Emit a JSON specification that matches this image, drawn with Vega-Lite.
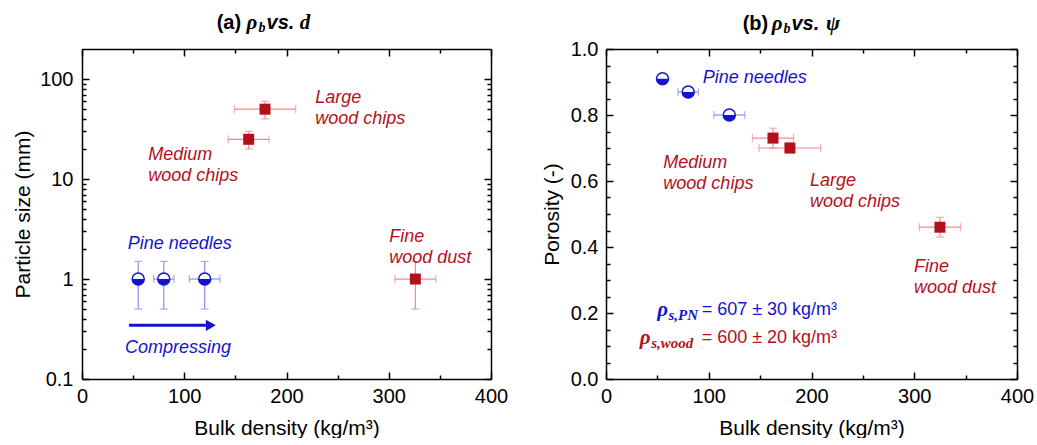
{
  "$schema": "https://vega.github.io/schema/vega-lite/v6.json",
  "padding": {"left": 12, "top": 12, "right": 0, "bottom": 0},
  "spacing": 33,
  "background": "white",
  "datasets": {
    "left": [
      {"group": "pine", "x": 55, "xlo": 52, "xhi": 58, "y": 1, "ylo": 0.5, "yhi": 1.5},
      {"group": "pine", "x": 80, "xlo": 70, "xhi": 90, "y": 1, "ylo": 0.5, "yhi": 1.5},
      {"group": "pine", "x": 120, "xlo": 105, "xhi": 135, "y": 1, "ylo": 0.5, "yhi": 1.5},
      {"group": "wood", "x": 163, "xlo": 143, "xhi": 183, "y": 25, "ylo": 20, "yhi": 30},
      {"group": "wood", "x": 179, "xlo": 149, "xhi": 209, "y": 50, "ylo": 40, "yhi": 60},
      {"group": "wood", "x": 326, "xlo": 306, "xhi": 346, "y": 1, "ylo": 0.5, "yhi": 1.5}
    ],
    "right": [
      {"group": "pine", "x": 55, "xlo": 52, "xhi": 58, "y": 0.91, "ylo": 0.9, "yhi": 0.92},
      {"group": "pine", "x": 80, "xlo": 70, "xhi": 90, "y": 0.87, "ylo": 0.86, "yhi": 0.88},
      {"group": "pine", "x": 120, "xlo": 105, "xhi": 135, "y": 0.8, "ylo": 0.79, "yhi": 0.81},
      {"group": "wood", "x": 162.5, "xlo": 142.5, "xhi": 182.5, "y": 0.73, "ylo": 0.7, "yhi": 0.76},
      {"group": "wood", "x": 179, "xlo": 149, "xhi": 209, "y": 0.7, "ylo": 0.685, "yhi": 0.715},
      {"group": "wood", "x": 325, "xlo": 305, "xhi": 345, "y": 0.46, "ylo": 0.43, "yhi": 0.49}
    ]
  },
  "config": {
    "view": {"stroke": null},
    "axis": {"domainColor": "black", "domainWidth": 1.5, "tickColor": "black", "tickWidth": 1.5, "labelFont": "Liberation Sans", "labelFontSize": 20, "labelColor": "black", "titleFont": "Liberation Sans", "titleFontSize": 21, "titleFontWeight": "normal", "titleColor": "black", "grid": false, "labelFlush": false, "labelOverlap": false},
    "text": {"font": "Liberation Sans", "fontSize": 18}
  },
  "hconcat": [
    {
      "width": 409, "height": 330,
      "data": {"name": "left"},
      "layer": [
        {"mark": {"type": "point", "opacity": 0},
         "encoding": {
           "x": {"field": "x", "type": "quantitative", "scale": {"domain": [0, 400], "nice": false, "zero": false},
                 "axis": {"orient": "bottom", "title": "Bulk density (kg/m³)", "values": [0, 50, 100, 150, 200, 250, 300, 350, 400], "labelExpr": "datum.value % 100 === 0 ? datum.label : ''", "tickSize": {"condition": {"test": "datum.value % 100 === 0", "value": -7}, "value": -4}, "labelPadding": 14, "titlePadding": 8}},
           "y": {"field": "y", "type": "quantitative", "scale": {"type": "log", "domain": [0.1, 200], "nice": false},
                 "axis": {"orient": "left", "title": "Particle size (mm)", "values": [0.1, 0.2, 0.3, 0.4, 0.5, 0.6, 0.7, 0.8, 0.9, 1, 2, 3, 4, 5, 6, 7, 8, 9, 10, 20, 30, 40, 50, 60, 70, 80, 90, 100], "format": "~g", "labelExpr": "abs(log(datum.value)/LN10 - round(log(datum.value)/LN10)) < 1e-6 ? datum.label : ''", "tickSize": {"condition": {"test": "abs(log(datum.value)/LN10 - round(log(datum.value)/LN10)) < 1e-6", "value": -7}, "value": -4}, "labelPadding": 16, "titlePadding": 6}}
         }},
        {"mark": {"type": "point", "opacity": 0},
         "encoding": {
           "x": {"field": "x", "type": "quantitative", "axis": {"orient": "top", "title": null, "labels": false, "values": [0, 50, 100, 150, 200, 250, 300, 350, 400], "tickSize": {"condition": {"test": "datum.value % 100 === 0", "value": -7}, "value": -4}}},
           "y": {"field": "y", "type": "quantitative", "axis": {"orient": "right", "title": null, "labels": false, "values": [0.1, 0.2, 0.3, 0.4, 0.5, 0.6, 0.7, 0.8, 0.9, 1, 2, 3, 4, 5, 6, 7, 8, 9, 10, 20, 30, 40, 50, 60, 70, 80, 90, 100], "tickSize": {"condition": {"test": "abs(log(datum.value)/LN10 - round(log(datum.value)/LN10)) < 1e-6", "value": -7}, "value": -4}}}
         }},
        {"mark": {"type": "errorbar", "ticks": true, "size": 8, "thickness": 1.2},
         "encoding": {"x": {"field": "xlo", "type": "quantitative", "axis": null}, "x2": {"field": "xhi"}, "y": {"field": "y", "type": "quantitative", "axis": null},
                      "color": {"field": "group", "type": "nominal", "scale": {"domain": ["pine", "wood"], "range": ["#8c8cf0", "#f08c8c"]}, "legend": null}}},
        {"mark": {"type": "errorbar", "ticks": true, "size": 8, "thickness": 1.2},
         "encoding": {"y": {"field": "ylo", "type": "quantitative", "axis": null}, "y2": {"field": "yhi"}, "x": {"field": "x", "type": "quantitative", "axis": null},
                      "color": {"field": "group", "type": "nominal", "legend": null}}},
        {"transform": [{"filter": "datum.group === 'pine'"}],
         "mark": {"type": "point", "shape": "circle", "filled": true, "fill": "white", "stroke": "#1414d0", "strokeWidth": 1.5, "size": 144, "opacity": 1},
         "encoding": {"x": {"field": "x", "type": "quantitative", "axis": null}, "y": {"field": "y", "type": "quantitative", "axis": null}}},
        {"transform": [{"filter": "datum.group === 'pine'"}],
         "mark": {"type": "point", "shape": "M-1,0C-1,0.552,-0.552,1,0,1C0.552,1,1,0.552,1,0Z", "filled": true, "color": "#1414d0", "size": 144, "opacity": 1},
         "encoding": {"x": {"field": "x", "type": "quantitative", "axis": null}, "y": {"field": "y", "type": "quantitative", "axis": null}}},
        {"transform": [{"filter": "datum.group === 'wood'"}],
         "mark": {"type": "square", "size": 121, "color": "#b3101b", "opacity": 1},
         "encoding": {"x": {"field": "x", "type": "quantitative", "axis": null}, "y": {"field": "y", "type": "quantitative", "axis": null}}},
        {"data": {"values": [{}]}, "mark": {"type": "text", "text": ["Large", "wood chips"], "align": "left", "baseline": "middle", "fontStyle": "italic", "lineHeight": 21, "color": "#b3101b"},
         "encoding": {"x": {"datum": 228, "type": "quantitative", "axis": null}, "y": {"datum": 64.6, "type": "quantitative", "axis": null}}},
        {"data": {"values": [{}]}, "mark": {"type": "text", "text": ["Medium", "wood chips"], "align": "left", "baseline": "middle", "fontStyle": "italic", "lineHeight": 21, "color": "#b3101b"},
         "encoding": {"x": {"datum": 64.8, "type": "quantitative", "axis": null}, "y": {"datum": 17.5, "type": "quantitative", "axis": null}}},
        {"data": {"values": [{}]}, "mark": {"type": "text", "text": ["Fine", "wood dust"], "align": "left", "baseline": "middle", "fontStyle": "italic", "lineHeight": 21, "color": "#b3101b"},
         "encoding": {"x": {"datum": 300.5, "type": "quantitative", "axis": null}, "y": {"datum": 2.66, "type": "quantitative", "axis": null}}},
        {"data": {"values": [{}]}, "mark": {"type": "text", "text": "Pine needles", "align": "left", "baseline": "middle", "fontStyle": "italic", "color": "#1414d0"},
         "encoding": {"x": {"datum": 44.7, "type": "quantitative", "axis": null}, "y": {"datum": 2.25, "type": "quantitative", "axis": null}}},
        {"data": {"values": [{}]}, "mark": {"type": "text", "text": "Compressing", "align": "left", "baseline": "middle", "fontStyle": "italic", "color": "#1414d0"},
         "encoding": {"x": {"datum": 42, "type": "quantitative", "axis": null}, "y": {"datum": 0.206, "type": "quantitative", "axis": null}}},
        {"data": {"values": [{}]}, "mark": {"type": "rule", "color": "#1414d0", "strokeWidth": 3},
         "encoding": {"x": {"datum": 46, "type": "quantitative", "axis": null}, "x2": {"datum": 124}, "y": {"datum": 0.344, "type": "quantitative", "axis": null}}},
        {"data": {"values": [{}]}, "mark": {"type": "point", "shape": "triangle-right", "filled": true, "color": "#1414d0", "size": 130, "opacity": 1},
         "encoding": {"x": {"datum": 126, "type": "quantitative", "axis": null}, "y": {"datum": 0.344, "type": "quantitative", "axis": null}}},
        {"data": {"values": [{}]}, "mark": {"type": "text", "text": "(a)", "align": "left", "baseline": "middle", "fontWeight": "bold", "fontSize": 20, "color": "black"},
         "encoding": {"x": {"datum": 131.7, "type": "quantitative", "axis": null}, "y": {"datum": 363, "type": "quantitative", "axis": null}}},
        {"data": {"values": [{}]}, "mark": {"type": "text", "text": "ρ", "align": "left", "baseline": "middle", "font": "Liberation Serif", "fontWeight": "bold", "fontStyle": "italic", "fontSize": 21, "color": "black"},
         "encoding": {"x": {"datum": 161, "type": "quantitative", "axis": null}, "y": {"datum": 363, "type": "quantitative", "axis": null}}},
        {"data": {"values": [{}]}, "mark": {"type": "text", "text": "b", "align": "left", "baseline": "middle", "font": "Liberation Serif", "fontWeight": "bold", "fontStyle": "italic", "fontSize": 14, "dy": 5, "color": "black"},
         "encoding": {"x": {"datum": 172.5, "type": "quantitative", "axis": null}, "y": {"datum": 363, "type": "quantitative", "axis": null}}},
        {"data": {"values": [{}]}, "mark": {"type": "text", "text": "vs.", "align": "left", "baseline": "middle", "fontWeight": "bold", "fontStyle": "italic", "fontSize": 20, "color": "black"},
         "encoding": {"x": {"datum": 180.5, "type": "quantitative", "axis": null}, "y": {"datum": 363, "type": "quantitative", "axis": null}}},
        {"data": {"values": [{}]}, "mark": {"type": "text", "text": "d", "align": "left", "baseline": "middle", "font": "Liberation Serif", "fontWeight": "bold", "fontStyle": "italic", "fontSize": 21, "color": "black"},
         "encoding": {"x": {"datum": 213, "type": "quantitative", "axis": null}, "y": {"datum": 363, "type": "quantitative", "axis": null}}}
      ]
    },
    {
      "width": 411, "height": 330,
      "data": {"name": "right"},
      "layer": [
        {"mark": {"type": "point", "opacity": 0},
         "encoding": {
           "x": {"field": "x", "type": "quantitative", "scale": {"domain": [0, 400], "nice": false, "zero": false},
                 "axis": {"orient": "bottom", "title": "Bulk density (kg/m³)", "values": [0, 50, 100, 150, 200, 250, 300, 350, 400], "labelExpr": "datum.value % 100 === 0 ? datum.label : ''", "tickSize": {"condition": {"test": "datum.value % 100 === 0", "value": -7}, "value": -4}, "labelPadding": 14, "titlePadding": 8}},
           "y": {"field": "y", "type": "quantitative", "scale": {"domain": [0, 1], "nice": false, "zero": false},
                 "axis": {"orient": "left", "title": "Porosity (-)", "values": [0, 0.05, 0.1, 0.15, 0.2, 0.25, 0.3, 0.35, 0.4, 0.45, 0.5, 0.55, 0.6, 0.65, 0.7, 0.75, 0.8, 0.85, 0.9, 0.95, 1], "format": ".1f", "labelExpr": "abs(datum.value*5 - round(datum.value*5)) < 1e-6 ? datum.label : ''", "tickSize": {"condition": {"test": "abs(datum.value*5 - round(datum.value*5)) < 1e-6", "value": -7}, "value": -4}, "labelPadding": 15, "titlePadding": 8}}
         }},
        {"mark": {"type": "point", "opacity": 0},
         "encoding": {
           "x": {"field": "x", "type": "quantitative", "axis": {"orient": "top", "title": null, "labels": false, "values": [0, 50, 100, 150, 200, 250, 300, 350, 400], "tickSize": {"condition": {"test": "datum.value % 100 === 0", "value": -7}, "value": -4}}},
           "y": {"field": "y", "type": "quantitative", "axis": {"orient": "right", "title": null, "labels": false, "values": [0, 0.05, 0.1, 0.15, 0.2, 0.25, 0.3, 0.35, 0.4, 0.45, 0.5, 0.55, 0.6, 0.65, 0.7, 0.75, 0.8, 0.85, 0.9, 0.95, 1], "tickSize": {"condition": {"test": "abs(datum.value*5 - round(datum.value*5)) < 1e-6", "value": -7}, "value": -4}}}
         }},
        {"mark": {"type": "errorbar", "ticks": true, "size": 8, "thickness": 1.2},
         "encoding": {"x": {"field": "xlo", "type": "quantitative", "axis": null}, "x2": {"field": "xhi"}, "y": {"field": "y", "type": "quantitative", "axis": null},
                      "color": {"field": "group", "type": "nominal", "scale": {"domain": ["pine", "wood"], "range": ["#8c8cf0", "#f08c8c"]}, "legend": null}}},
        {"mark": {"type": "errorbar", "ticks": true, "size": 8, "thickness": 1.2},
         "encoding": {"y": {"field": "ylo", "type": "quantitative", "axis": null}, "y2": {"field": "yhi"}, "x": {"field": "x", "type": "quantitative", "axis": null},
                      "color": {"field": "group", "type": "nominal", "legend": null}}},
        {"transform": [{"filter": "datum.group === 'pine'"}],
         "mark": {"type": "point", "shape": "circle", "filled": true, "fill": "white", "stroke": "#1414d0", "strokeWidth": 1.5, "size": 144, "opacity": 1},
         "encoding": {"x": {"field": "x", "type": "quantitative", "axis": null}, "y": {"field": "y", "type": "quantitative", "axis": null}}},
        {"transform": [{"filter": "datum.group === 'pine'"}],
         "mark": {"type": "point", "shape": "M-1,0C-1,0.552,-0.552,1,0,1C0.552,1,1,0.552,1,0Z", "filled": true, "color": "#1414d0", "size": 144, "opacity": 1},
         "encoding": {"x": {"field": "x", "type": "quantitative", "axis": null}, "y": {"field": "y", "type": "quantitative", "axis": null}}},
        {"transform": [{"filter": "datum.group === 'wood'"}],
         "mark": {"type": "square", "size": 121, "color": "#b3101b", "opacity": 1},
         "encoding": {"x": {"field": "x", "type": "quantitative", "axis": null}, "y": {"field": "y", "type": "quantitative", "axis": null}}},
        {"data": {"values": [{}]}, "mark": {"type": "text", "text": "Pine needles", "align": "left", "baseline": "middle", "fontStyle": "italic", "color": "#1414d0"},
         "encoding": {"x": {"datum": 94.1, "type": "quantitative", "axis": null}, "y": {"datum": 0.912, "type": "quantitative", "axis": null}}},
        {"data": {"values": [{}]}, "mark": {"type": "text", "text": ["Medium", "wood chips"], "align": "left", "baseline": "middle", "fontStyle": "italic", "lineHeight": 21, "color": "#b3101b"},
         "encoding": {"x": {"datum": 55.8, "type": "quantitative", "axis": null}, "y": {"datum": 0.655, "type": "quantitative", "axis": null}}},
        {"data": {"values": [{}]}, "mark": {"type": "text", "text": ["Large", "wood chips"], "align": "left", "baseline": "middle", "fontStyle": "italic", "lineHeight": 21, "color": "#b3101b"},
         "encoding": {"x": {"datum": 198.5, "type": "quantitative", "axis": null}, "y": {"datum": 0.6, "type": "quantitative", "axis": null}}},
        {"data": {"values": [{}]}, "mark": {"type": "text", "text": ["Fine", "wood dust"], "align": "left", "baseline": "middle", "fontStyle": "italic", "lineHeight": 21, "color": "#b3101b"},
         "encoding": {"x": {"datum": 299.8, "type": "quantitative", "axis": null}, "y": {"datum": 0.339, "type": "quantitative", "axis": null}}},
        {"data": {"values": [{}]}, "mark": {"type": "text", "text": "ρ", "align": "right", "baseline": "middle", "font": "Liberation Serif", "fontWeight": "bold", "fontStyle": "italic", "fontSize": 21, "color": "#1414d0"},
         "encoding": {"x": {"datum": 60.3, "type": "quantitative", "axis": null}, "y": {"datum": 0.208, "type": "quantitative", "axis": null}}},
        {"data": {"values": [{}]}, "mark": {"type": "text", "text": "s,PN", "align": "left", "baseline": "middle", "font": "Liberation Serif", "fontWeight": "bold", "fontStyle": "italic", "fontSize": 15, "dy": 5, "color": "#1414d0"},
         "encoding": {"x": {"datum": 60.8, "type": "quantitative", "axis": null}, "y": {"datum": 0.208, "type": "quantitative", "axis": null}}},
        {"data": {"values": [{}]}, "mark": {"type": "text", "text": "= 607 ± 30 kg/m³", "align": "left", "baseline": "middle", "fontSize": 18, "color": "#1414d0"},
         "encoding": {"x": {"datum": 93.1, "type": "quantitative", "axis": null}, "y": {"datum": 0.208, "type": "quantitative", "axis": null}}},
        {"data": {"values": [{}]}, "mark": {"type": "text", "text": "ρ", "align": "right", "baseline": "middle", "font": "Liberation Serif", "fontWeight": "bold", "fontStyle": "italic", "fontSize": 21, "color": "#b3101b"},
         "encoding": {"x": {"datum": 43.5, "type": "quantitative", "axis": null}, "y": {"datum": 0.124, "type": "quantitative", "axis": null}}},
        {"data": {"values": [{}]}, "mark": {"type": "text", "text": "s,wood", "align": "left", "baseline": "middle", "font": "Liberation Serif", "fontWeight": "bold", "fontStyle": "italic", "fontSize": 15, "dy": 5, "color": "#b3101b"},
         "encoding": {"x": {"datum": 44, "type": "quantitative", "axis": null}, "y": {"datum": 0.124, "type": "quantitative", "axis": null}}},
        {"data": {"values": [{}]}, "mark": {"type": "text", "text": "= 600 ± 20 kg/m³", "align": "left", "baseline": "middle", "fontSize": 18, "color": "#b3101b"},
         "encoding": {"x": {"datum": 93.1, "type": "quantitative", "axis": null}, "y": {"datum": 0.124, "type": "quantitative", "axis": null}}},
        {"data": {"values": [{}]}, "mark": {"type": "text", "text": "(b)", "align": "left", "baseline": "middle", "fontWeight": "bold", "fontSize": 20, "color": "black"},
         "encoding": {"x": {"datum": 133, "type": "quantitative", "axis": null}, "y": {"datum": 1.076, "type": "quantitative", "axis": null}}},
        {"data": {"values": [{}]}, "mark": {"type": "text", "text": "ρ", "align": "left", "baseline": "middle", "font": "Liberation Serif", "fontWeight": "bold", "fontStyle": "italic", "fontSize": 21, "color": "black"},
         "encoding": {"x": {"datum": 161.3, "type": "quantitative", "axis": null}, "y": {"datum": 1.076, "type": "quantitative", "axis": null}}},
        {"data": {"values": [{}]}, "mark": {"type": "text", "text": "b", "align": "left", "baseline": "middle", "font": "Liberation Serif", "fontWeight": "bold", "fontStyle": "italic", "fontSize": 14, "dy": 5, "color": "black"},
         "encoding": {"x": {"datum": 172.8, "type": "quantitative", "axis": null}, "y": {"datum": 1.076, "type": "quantitative", "axis": null}}},
        {"data": {"values": [{}]}, "mark": {"type": "text", "text": "vs.", "align": "left", "baseline": "middle", "fontWeight": "bold", "fontStyle": "italic", "fontSize": 20, "color": "black"},
         "encoding": {"x": {"datum": 180.5, "type": "quantitative", "axis": null}, "y": {"datum": 1.076, "type": "quantitative", "axis": null}}},
        {"data": {"values": [{}]}, "mark": {"type": "text", "text": "ψ", "align": "left", "baseline": "middle", "font": "Liberation Serif", "fontWeight": "bold", "fontStyle": "italic", "fontSize": 21, "color": "black"},
         "encoding": {"x": {"datum": 214, "type": "quantitative", "axis": null}, "y": {"datum": 1.076, "type": "quantitative", "axis": null}}}
      ]
    }
  ]
}
